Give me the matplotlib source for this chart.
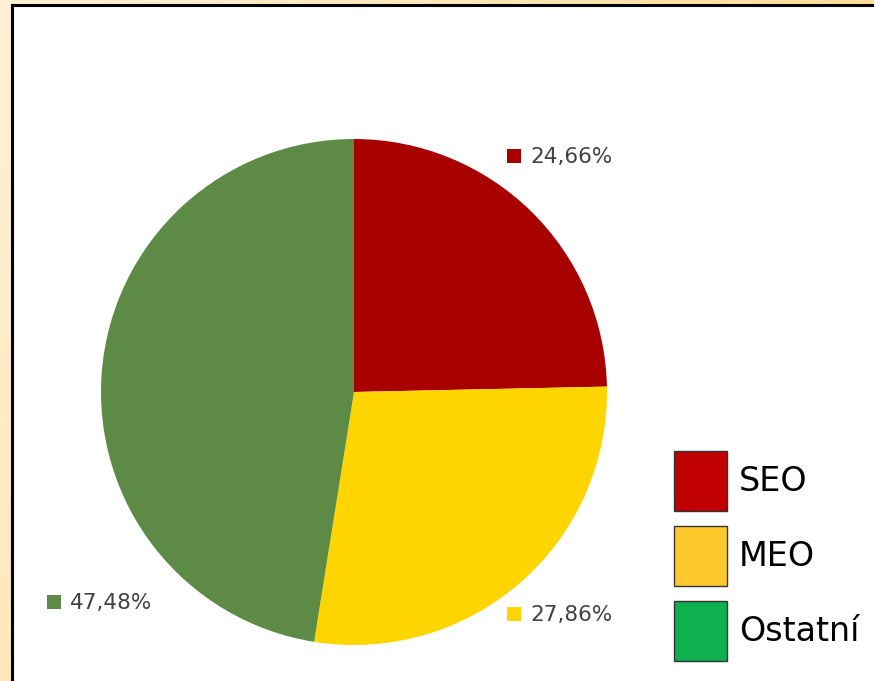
import numpy as np
import matplotlib.pyplot as plt
from matplotlib.patches import Rectangle, Patch

# dane
kategorie = ['SEO', 'MEO', 'Ostatní']
udzialy = [24.66, 27.86, 47.48]
kolory_kolo = ['#A80000', '#FFD500', '#5D8A45']
kolory_legenda = ['#C00000', '#FFC92E', '#0EB050']

W, H = 874, 681
fig = plt.figure(figsize=(W / 100, H / 100), dpi=100)

# tło z gradientem
bg = fig.add_axes([0, 0, 1, 1])
xx, yy = np.meshgrid(np.linspace(0, 1, 200), np.linspace(0, 1, 200))
t = np.clip(0.75 * xx + 0.35 * yy, 0, 1)
c0 = np.array([255, 241, 214]) / 255
c1 = np.array([255, 214, 135]) / 255
img = c0[None, None, :] * (1 - t[..., None]) + c1[None, None, :] * t[..., None]
bg.imshow(img, extent=[0, W, H, 0], aspect='auto')
bg.set_xlim(0, W)
bg.set_ylim(H, 0)
bg.axis('off')
bg.add_patch(Rectangle((15, 8), W, H, facecolor='#808080', edgecolor='none', alpha=0.5))
bg.add_patch(Rectangle((12, 5), W, H, facecolor='white', edgecolor='black', linewidth=2.2))

# wykres kołowy
r = 253
cx, cy = 354, 392
ax = fig.add_axes([(cx - r) / W, 1 - (cy + r) / H, 2 * r / W, 2 * r / H])
ax.pie(udzialy, colors=kolory_kolo, startangle=90, counterclock=False,
       wedgeprops=dict(linewidth=0))
ax.set_aspect('auto')
ax.set_xlim(-1, 1)
ax.set_ylim(-1, 1)
ax.axis('off')

# etykiety procent
pozycje = [(514, 156), (514, 614), (54, 602)]
for v, kol, (px, py) in zip(udzialy, kolory_kolo, pozycje):
    bg.add_patch(Rectangle((px - 7, py - 7), 14, 14, facecolor=kol, edgecolor='none'))
    bg.text(px + 16, py + 1, f'{v:.2f}'.replace('.', ',') + '%', fontsize=15.5,
            family='DejaVu Sans', color='#404040', va='center', ha='left')

# legenda
uchwyty = [Patch(facecolor=k, edgecolor='#333333', linewidth=1) for k in kolory_legenda]
fs = 24
fig.legend(uchwyty, kategorie, loc='upper left',
           bbox_to_anchor=(674 / W, 1 - 451 / H), frameon=False,
           prop={'family': 'DejaVu Sans', 'size': fs},
           handlelength=1.59, handleheight=2.39,
           handletextpad=0.36, labelspacing=0.45, borderpad=0, borderaxespad=0)

fig.savefig('out.png', dpi=100)
